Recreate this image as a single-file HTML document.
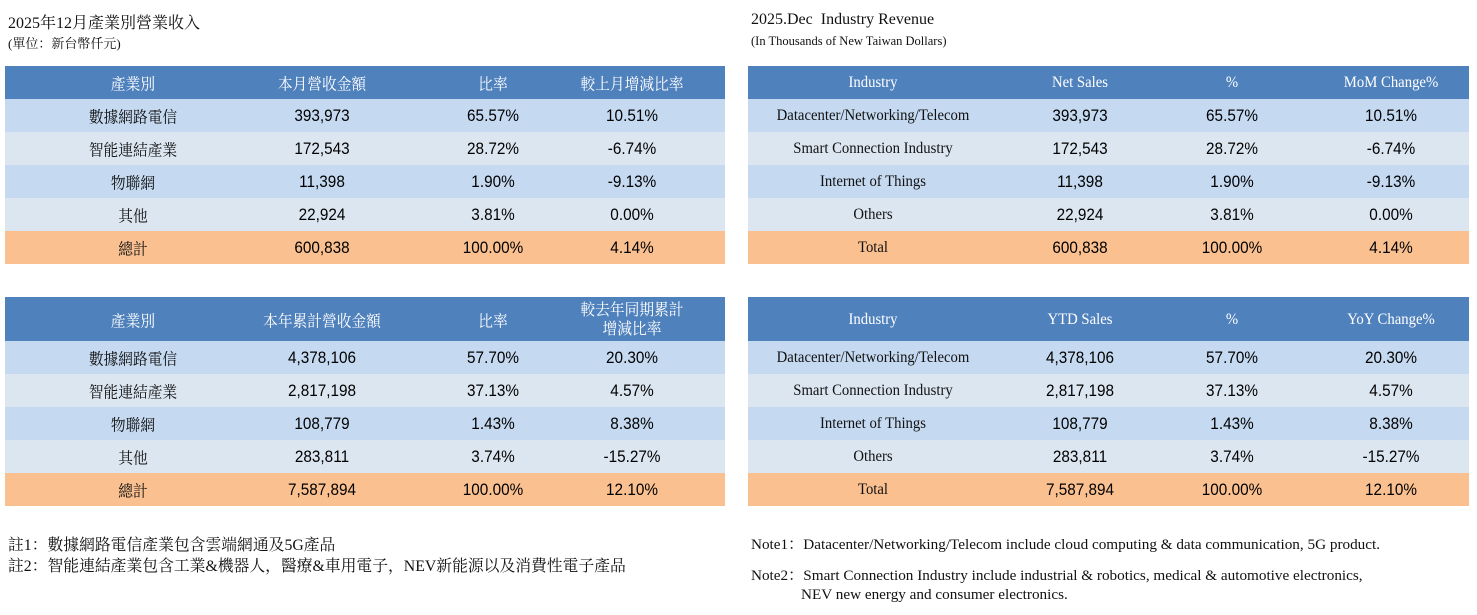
<!DOCTYPE html>
<html><head><meta charset="utf-8"><style>
body{margin:0;width:1477px;height:615px;background:#fff;position:relative;overflow:hidden;font-family:"Liberation Serif","Noto Serif CJK SC",serif;color:#111}
.t{position:absolute;white-space:nowrap}
.r{position:absolute;height:33px}
.r span{position:absolute;top:52%;transform:translate(-50%,-50%) scaleX(0.92);white-space:nowrap;font-size:16px}
.h{background:#4f81bd;color:#fff}
.a{background:#c5d9f1}.b{background:#dce6f1}.o{background:#fac090}
.r span.n{font-family:"Liberation Sans",sans-serif;font-size:17px;color:#000;transform:translate(-50%,-50%) scaleX(0.9)}
.cj{font-family:"Liberation Serif","Noto Serif CJK SC",serif}
.L{left:5px;width:720px}.R{left:748px;width:721px}
</style></head><body>
<div class="t" style="left:8px;top:10px;font-size:16px;font-family:'Liberation Serif','Noto Serif CJK SC',serif">2025年12月產業別營業收入</div>
<div class="t" style="left:8px;top:33px;font-size:13px;font-family:'Liberation Serif','Noto Serif CJK SC',serif">(單位：新台幣仟元)</div>
<div class="t" style="left:751px;top:11px;font-size:16px">2025.Dec&nbsp; Industry Revenue</div>
<div class="t" style="left:751px;top:34px;font-size:12.5px">(In Thousands of New Taiwan Dollars)</div>

<div class="r h L cj" style="top:66px"><span style="left:128px">產業別</span><span style="left:317px">本月營收金額</span><span style="left:488px">比率</span><span style="left:627px">較上月增減比率</span></div>
<div class="r a L cj" style="top:99px"><span style="left:128px">數據網路電信</span><span class="n" style="left:317px">393,973</span><span class="n" style="left:488px">65.57%</span><span class="n" style="left:627px">10.51%</span></div>
<div class="r b L cj" style="top:132px"><span style="left:128px">智能連結產業</span><span class="n" style="left:317px">172,543</span><span class="n" style="left:488px">28.72%</span><span class="n" style="left:627px">-6.74%</span></div>
<div class="r a L cj" style="top:165px"><span style="left:128px">物聯網</span><span class="n" style="left:317px">11,398</span><span class="n" style="left:488px">1.90%</span><span class="n" style="left:627px">-9.13%</span></div>
<div class="r b L cj" style="top:198px"><span style="left:128px">其他</span><span class="n" style="left:317px">22,924</span><span class="n" style="left:488px">3.81%</span><span class="n" style="left:627px">0.00%</span></div>
<div class="r o L cj" style="top:231px"><span style="left:128px">總計</span><span class="n" style="left:317px">600,838</span><span class="n" style="left:488px">100.00%</span><span class="n" style="left:627px">4.14%</span></div>

<div class="r h L cj" style="top:297px;height:44px"><span style="left:128px">產業別</span><span style="left:317px">本年累計營收金額</span><span style="left:488px">比率</span><span style="left:627px;text-align:center;line-height:19px">較去年同期累計<br>增減比率</span></div>
<div class="r a L cj" style="top:341px"><span style="left:128px">數據網路電信</span><span class="n" style="left:317px">4,378,106</span><span class="n" style="left:488px">57.70%</span><span class="n" style="left:627px">20.30%</span></div>
<div class="r b L cj" style="top:374px"><span style="left:128px">智能連結產業</span><span class="n" style="left:317px">2,817,198</span><span class="n" style="left:488px">37.13%</span><span class="n" style="left:627px">4.57%</span></div>
<div class="r a L cj" style="top:407px"><span style="left:128px">物聯網</span><span class="n" style="left:317px">108,779</span><span class="n" style="left:488px">1.43%</span><span class="n" style="left:627px">8.38%</span></div>
<div class="r b L cj" style="top:440px"><span style="left:128px">其他</span><span class="n" style="left:317px">283,811</span><span class="n" style="left:488px">3.74%</span><span class="n" style="left:627px">-15.27%</span></div>
<div class="r o L cj" style="top:473px"><span style="left:128px">總計</span><span class="n" style="left:317px">7,587,894</span><span class="n" style="left:488px">100.00%</span><span class="n" style="left:627px">12.10%</span></div>

<div class="r h R" style="top:66px"><span style="left:125px">Industry</span><span style="left:332px">Net Sales</span><span style="left:484px">%</span><span style="left:643px">MoM Change%</span></div>
<div class="r a R" style="top:99px"><span style="left:125px">Datacenter/Networking/Telecom</span><span class="n" style="left:332px">393,973</span><span class="n" style="left:484px">65.57%</span><span class="n" style="left:643px">10.51%</span></div>
<div class="r b R" style="top:132px"><span style="left:125px">Smart Connection Industry</span><span class="n" style="left:332px">172,543</span><span class="n" style="left:484px">28.72%</span><span class="n" style="left:643px">-6.74%</span></div>
<div class="r a R" style="top:165px"><span style="left:125px">Internet of Things</span><span class="n" style="left:332px">11,398</span><span class="n" style="left:484px">1.90%</span><span class="n" style="left:643px">-9.13%</span></div>
<div class="r b R" style="top:198px"><span style="left:125px">Others</span><span class="n" style="left:332px">22,924</span><span class="n" style="left:484px">3.81%</span><span class="n" style="left:643px">0.00%</span></div>
<div class="r o R" style="top:231px"><span style="left:125px">Total</span><span class="n" style="left:332px">600,838</span><span class="n" style="left:484px">100.00%</span><span class="n" style="left:643px">4.14%</span></div>

<div class="r h R" style="top:297px;height:44px"><span style="left:125px">Industry</span><span style="left:332px">YTD Sales</span><span style="left:484px">%</span><span style="left:643px">YoY Change%</span></div>
<div class="r a R" style="top:341px"><span style="left:125px">Datacenter/Networking/Telecom</span><span class="n" style="left:332px">4,378,106</span><span class="n" style="left:484px">57.70%</span><span class="n" style="left:643px">20.30%</span></div>
<div class="r b R" style="top:374px"><span style="left:125px">Smart Connection Industry</span><span class="n" style="left:332px">2,817,198</span><span class="n" style="left:484px">37.13%</span><span class="n" style="left:643px">4.57%</span></div>
<div class="r a R" style="top:407px"><span style="left:125px">Internet of Things</span><span class="n" style="left:332px">108,779</span><span class="n" style="left:484px">1.43%</span><span class="n" style="left:643px">8.38%</span></div>
<div class="r b R" style="top:440px"><span style="left:125px">Others</span><span class="n" style="left:332px">283,811</span><span class="n" style="left:484px">3.74%</span><span class="n" style="left:643px">-15.27%</span></div>
<div class="r o R" style="top:473px"><span style="left:125px">Total</span><span class="n" style="left:332px">7,587,894</span><span class="n" style="left:484px">100.00%</span><span class="n" style="left:643px">12.10%</span></div>

<div class="t" style="left:8px;top:532px;font-size:15.8px;font-family:'Liberation Serif','Noto Serif CJK SC',serif">註1：數據網路電信產業包含雲端網通及5G產品</div>
<div class="t" style="left:8px;top:553px;font-size:15.8px;font-family:'Liberation Serif','Noto Serif CJK SC',serif">註2：智能連結產業包含工業&amp;機器人，醫療&amp;車用電子，NEV新能源以及消費性電子產品</div>
<div class="t" style="left:751px;top:533px;font-size:15.2px">Note1：Datacenter/Networking/Telecom include cloud computing &amp; data communication, 5G product.</div>
<div class="t" style="left:751px;top:564px;font-size:15.2px">Note2：Smart Connection Industry include industrial &amp; robotics, medical &amp; automotive electronics,</div>
<div class="t" style="left:801px;top:586px;font-size:15.2px">NEV new energy and consumer electronics.</div>
</body></html>
